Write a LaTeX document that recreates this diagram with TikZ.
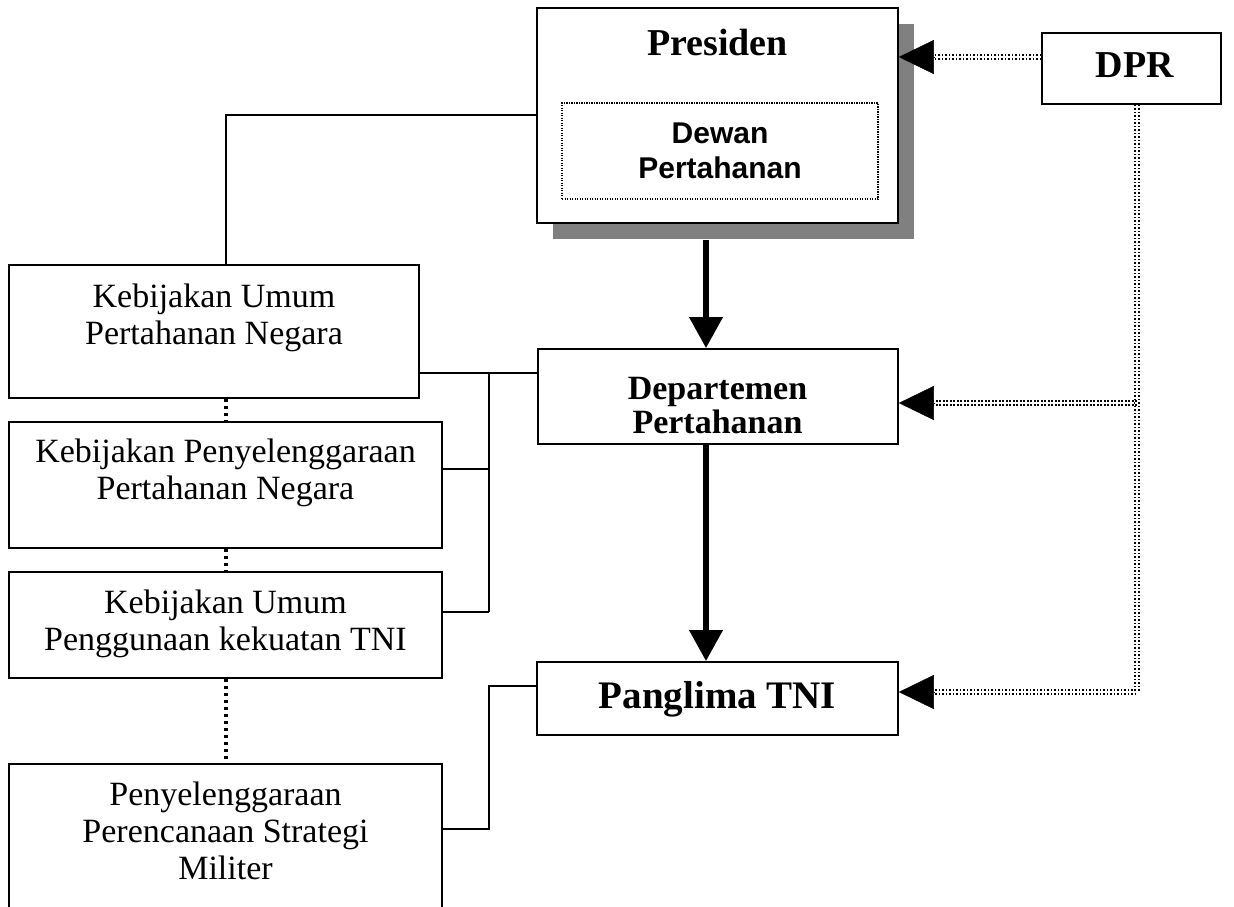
\documentclass[tikz,border=0pt]{standalone}
\usepackage{fontspec}
\setmainfont{Liberation Serif}
\newfontfamily\sansbold{Liberation Sans}
\usetikzlibrary{arrows.meta,shadows}
\definecolor{shgray}{HTML}{808080}
\tikzset{
  box/.style={draw, line width=1.6pt, fill=white, inner sep=0pt, rectangle},
  ltext/.style={align=center, inner sep=0pt, font=\fontsize{34}{37}\selectfont},
  conn/.style={line width=1.5pt},
  dotv/.style={line width=3.5pt, dash pattern=on 3.5pt off 3.5pt},
  dbl/.style={draw=black, double=white, line width=1.5pt, double distance=2.6pt, dash pattern=on 1.6pt off 1.9pt},
  bigtip/.style={-{Triangle[length=35pt,width=34pt]}, line width=0.4pt},
  thickarr/.style={line width=6.5pt, -{Triangle[length=31pt,width=32pt]}},
  innerdot/.style={draw, line width=1.2pt, dash pattern=on 1.2pt off 1.3pt, inner sep=0pt, rectangle}
}
\begin{document}
\begin{tikzpicture}[x=1pt,y=-1pt]
\useasboundingbox (0,0) rectangle (1234,906);
\clip (0,0) rectangle (1234,906);
% reference coordinates
\coordinate (xL) at (226,0);
\coordinate (xB) at (489,0);
\coordinate (xA) at (706,0);
\coordinate (xR) at (1137,0);
\coordinate (yP) at (0,115);
\coordinate (yD) at (0,373);
\coordinate (y2) at (0,469);
\coordinate (y3) at (0,612);
\coordinate (y4) at (0,829);
\coordinate (yPa) at (0,686);
\coordinate (yDP) at (0,57);
\coordinate (yDept) at (0,403);
\coordinate (yPan) at (0,692);

% boxes
\node[box, minimum width=361pt, minimum height=215pt,
      drop shadow={shadow xshift=16pt, shadow yshift=-16pt, fill=shgray, opacity=1, draw=none}]
      (pres) at (717.5,115.5) {};
\node[innerdot, minimum width=316pt, minimum height=96pt] (dewan) at (720,151) {};
\node[box, minimum width=179pt, minimum height=71pt] (dpr) at (1131.5,68.5) {};
\node[box, minimum width=360pt, minimum height=95pt] (dept) at (718,396.5) {};
\node[box, minimum width=361pt, minimum height=73pt] (pan) at (717.5,698.5) {};
\node[box, minimum width=410pt, minimum height=133pt] (k1) at (214,331.5) {};
\node[box, minimum width=433pt, minimum height=126pt] (k2) at (225.5,485) {};
\node[box, minimum width=433pt, minimum height=106pt] (k3) at (225.5,625) {};
\node[box, minimum width=433pt, minimum height=166pt] (k4) at (225.5,847) {};

% texts
\node[anchor=base, inner sep=0pt, font=\bfseries\fontsize{38}{40}\selectfont] (prest) at (717.5,55) {Presiden};
\node[align=center, inner sep=0pt, font=\sansbold\bfseries\fontsize{30}{35}\selectfont] (dewant) at (720,153.5) {Dewan\strut\\Pertahanan\strut};
\node[anchor=base, inner sep=0pt, font=\bfseries\fontsize{38}{40}\selectfont] (dprt) at (1135,77) {DPR};
\node[align=center, inner sep=0pt, font=\bfseries\fontsize{34}{33}\selectfont] (deptt) at (717.5,410) {Departemen\strut\\Pertahanan\strut};
\node[anchor=base, inner sep=0pt, font=\bfseries\fontsize{39}{40}\selectfont] (pant) at (717.5,708) {Panglima TNI};
\node[ltext] (k1t) at (214,318.1) {Kebijakan Umum\strut\\Pertahanan Negara\strut};
\node[ltext] (k2t) at (225.5,473.1) {Kebijakan Penyelenggaraan\strut\\Pertahanan Negara\strut};
\node[ltext] (k3t) at (225.5,624.1) {Kebijakan Umum\strut\\Penggunaan kekuatan TNI\strut};
\node[ltext] (k4t) at (225.5,834.6) {Penyelenggaraan\strut\\Perencanaan Strategi\strut\\Militer\strut};

% thin solid connectors
\draw[conn] (k1.north -| xL) |- (pres.west |- yP);
\draw[conn] (k1.east |- yD) -- (dept.west |- yD);
\draw[conn] (xB |- yD) -- (xB |- y3);
\draw[conn] (k2.east |- y2) -- (xB |- y2);
\draw[conn] (k3.east |- y3) -- (xB |- y3);
\draw[conn] (k4.east |- y4) -| (xB |- yPa) -- (pan.west |- yPa);

% dotted links between the left boxes
\draw[dotv] (k1.south -| xL) -- (k2.north -| xL);
\draw[dotv] (k2.south -| xL) -- (k3.north -| xL);
\draw[dotv] (k3.south -| xL) -- (k4.north -| xL);

% thick arrows
\coordinate (shb) at ([yshift=-16pt]pres.south);
\draw[thickarr] (shb -| xA) -- (dept.north -| xA);
\draw[thickarr] (dept.south -| xA) -- (pan.north -| xA);

% DPR double dotted connectors
\coordinate (tP) at (pres.east |- yDP);
\coordinate (tD) at (dept.east |- yDept);
\coordinate (tN) at (pan.east |- yPan);
\draw[dbl] (dpr.west |- yDP) -- ([xshift=33pt]tP);
\draw[dbl] (dpr.south -| xR) -- (xR |- yPan) -- ([xshift=33pt]tN);
\draw[dbl] (xR |- yDept) -- ([xshift=33pt]tD);
\draw[bigtip] ([xshift=35pt]tP) -- (tP);
\draw[bigtip] ([xshift=35pt]tD) -- (tD);
\draw[bigtip] ([xshift=35pt]tN) -- (tN);
\end{tikzpicture}
\end{document}
